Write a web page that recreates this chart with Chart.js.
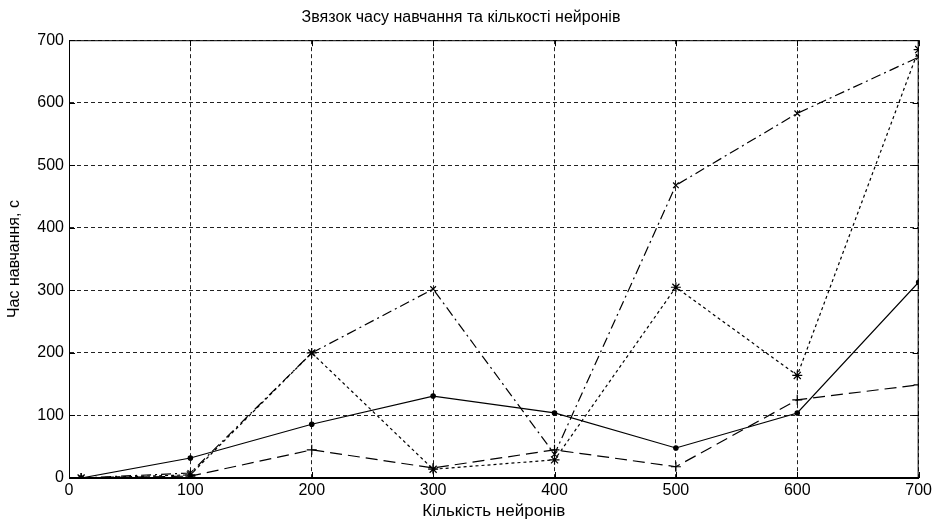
<!DOCTYPE html>
<html>
<head>
<meta charset="utf-8">
<script src="https://cdn.jsdelivr.net/npm/chart.js@4"></script>
<style>
  html, body { margin: 0; padding: 0; background: #fff; }
  canvas { display: block; }
</style>
</head>
<body>
<canvas id="trainChart" width="935" height="522"></canvas>
<script>
// кількість нейронів
const neurons = [10, 100, 200, 300, 400, 500, 600, 700];
// час навчання, с
const timeSolid   = [0, 32, 86, 131, 104, 48, 104, 313];
const timeDashed  = [0, 3, 45, 16, 45, 18, 125, 149];
const timeDotted  = [0, 5, 200, 14, 29, 305, 164, 685];
const timeDashDot = [0, 8, 200, 302, 38, 468, 583, 673];
const xTicks = [0, 100, 200, 300, 400, 500, 600, 700];
const yTicks = [0, 100, 200, 300, 400, 500, 600, 700];

function toPoints(values) {
    return neurons.map((n, i) => ({ x: n, y: values[i] }));
}

function series(values, dash, style, radius) {
    return {
        data: toPoints(values),
        borderColor: '#000',
        backgroundColor: '#000',
        borderWidth: 1.2,
        borderDash: dash,
        pointStyle: style,
        pointRadius: radius,
        pointBorderWidth: 1.2,
        tension: 0
    };
}

// рамка навколо області графіка + внутрішні засічки
const frame = {
    id: 'frame',
    afterDraw(chart) {
        const { ctx, chartArea: a, scales } = chart;
        ctx.save();
        ctx.strokeStyle = '#000';
        ctx.lineWidth = 1;
        ctx.setLineDash([]);
        ctx.strokeRect(a.left + 0.5, a.top + 0.5, a.right - a.left - 1, a.bottom - a.top - 1);
        ctx.beginPath();
        xTicks.forEach(t => {
            const px = Math.round(scales.x.getPixelForValue(t)) + 0.5;
            ctx.moveTo(px, a.bottom); ctx.lineTo(px, a.bottom - 6);
            ctx.moveTo(px, a.top); ctx.lineTo(px, a.top + 6);
        });
        yTicks.forEach(t => {
            const py = Math.round(scales.y.getPixelForValue(t)) + 0.5;
            ctx.moveTo(a.left, py); ctx.lineTo(a.left + 6, py);
            ctx.moveTo(a.right, py); ctx.lineTo(a.right - 6, py);
        });
        ctx.stroke();
        ctx.restore();
    }
};

const family = '"Liberation Sans", Arial, sans-serif';
const tickFont = { family: family, size: 16 };

new Chart(document.getElementById('trainChart').getContext('2d'), {
    type: 'line',
    data: {
        datasets: [
            series(timeSolid, [], 'circle', 2.2),
            series(timeDashed, [12, 6], 'cross', 5),
            series(timeDotted, [3, 3], 'star', 5),
            series(timeDashDot, [10, 4, 2, 4], 'crossRot', 4)
        ]
    },
    options: {
        responsive: false,
        animation: false,
        layout: { padding: { left: 0, right: 13, top: 0, bottom: 0 } },
        plugins: {
            legend: { display: false },
            tooltip: { enabled: false },
            title: {
                display: true,
                text: 'Звязок часу навчання та кількості нейронів',
                color: '#000',
                font: { family: family, size: 16, weight: 'normal' },
                padding: { top: 8, bottom: 13 }
            }
        },
        scales: {
            x: {
                type: 'linear',
                min: 0,
                max: 700,
                afterFit: s => { s.height = 44; },
                afterBuildTicks: s => { s.ticks = xTicks.map(v => ({ value: v })); },
                ticks: { color: '#000', font: tickFont, padding: 3, maxRotation: 0 },
                grid: { color: '#222', drawTicks: false },
                border: { display: true, color: '#000', dash: [4, 3] },
                title: {
                    display: true,
                    text: 'Кількість нейронів',
                    color: '#000',
                    font: { family: family, size: 17 },
                    padding: { top: 0, bottom: 0 }
                }
            },
            y: {
                min: 0,
                max: 700,
                afterFit: s => { s.width = 69; },
                afterBuildTicks: s => { s.ticks = yTicks.map(v => ({ value: v })); },
                ticks: { color: '#000', font: tickFont, padding: 5 },
                grid: { color: '#222', drawTicks: false },
                border: { display: true, color: '#000', dash: [4, 3] },
                title: {
                    display: true,
                    text: 'Час навчання, с',
                    color: '#000',
                    font: { family: family, size: 16 },
                    padding: { top: 5, bottom: 0 }
                }
            }
        }
    },
    plugins: [frame]
});
</script>
</body>
</html>
